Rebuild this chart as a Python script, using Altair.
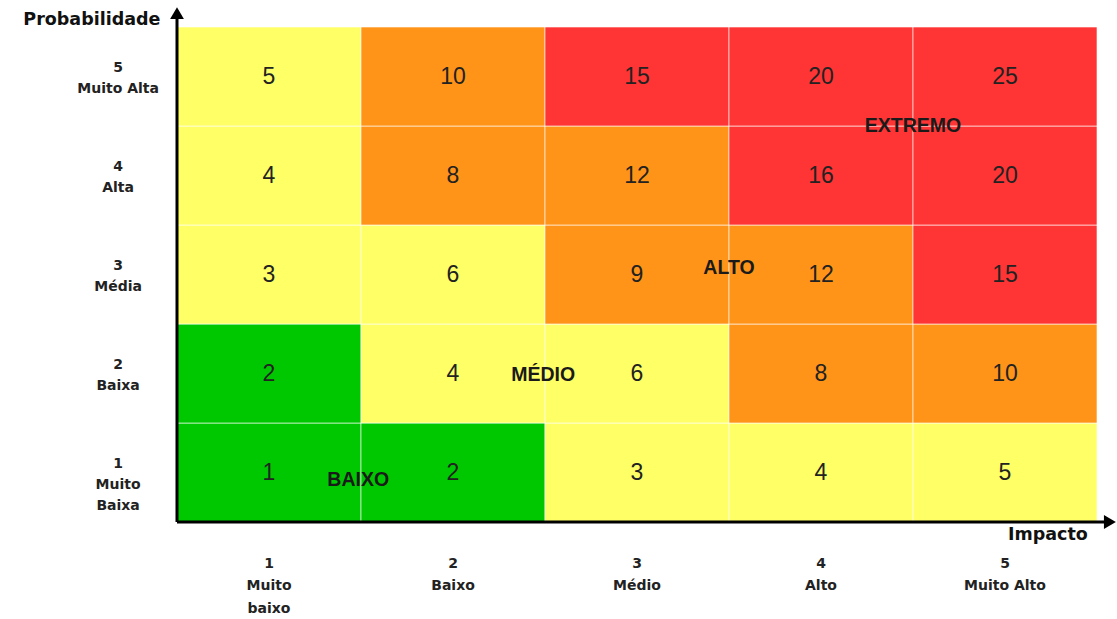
import altair as alt
import pandas as pd

# ---- data ----
impact_levels = [1, 2, 3, 4, 5]
prob_levels = [1, 2, 3, 4, 5]
impact_labels = ["1\nMuito\nbaixo", "2\nBaixo", "3\nMédio", "4\nAlto", "5\nMuito Alto"]
prob_labels = ["1\nMuito\nBaixa", "2\nBaixa", "3\nMédia", "4\nAlta", "5\nMuito Alta"]

# risk class per cell: rows = probability 1..5, cols = impact 1..5
risk_class = [
    ["G", "G", "Y", "Y", "Y"],
    ["G", "Y", "Y", "O", "O"],
    ["Y", "Y", "O", "O", "R"],
    ["Y", "O", "O", "R", "R"],
    ["Y", "O", "R", "R", "R"],
]
class_codes = ["G", "Y", "O", "R"]
class_colors = ["#00C800", "#FFFF66", "#FF9418", "#FF3535"]

zone_names = ["BAIXO", "MÉDIO", "ALTO", "EXTREMO"]
zone_x = [0.985, 1.99, 3.0, 4.0]
zone_y = [0.42, 1.48, 2.57, 4.0]

rows = []
for pi, p in enumerate(prob_levels):
    for ii, i in enumerate(impact_levels):
        rows.append({"x0": i - 1, "x1": i, "y0": p - 1, "y1": p,
                     "xc": i - 0.5, "yc": p - 0.5,
                     "val": str(p * i), "cls": risk_class[pi][ii]})
cells = pd.DataFrame(rows)

xlab = pd.DataFrame({"x": [i - 0.5 for i in impact_levels], "y": [-0.35] * 5, "t": impact_labels})
ylab = pd.DataFrame({"x": [-0.32] * 5, "y": [p - 0.5 + 0.16 for p in prob_levels], "t": prob_labels})
zones = pd.DataFrame({"x": zone_x, "y": zone_y, "t": zone_names})

xs = alt.Scale(domain=[0, 5], nice=False, zero=False)
ys = alt.Scale(domain=[0, 5], nice=False, zero=False)

base = alt.Chart(cells)

rects = base.mark_rect(stroke="white", strokeWidth=1, strokeOpacity=0.6).encode(
    x=alt.X("x0:Q", scale=xs, axis=None),
    x2="x1:Q",
    y=alt.Y("y0:Q", scale=ys, axis=None),
    y2="y1:Q",
    color=alt.Color("cls:N", scale=alt.Scale(domain=class_codes, range=class_colors), legend=None),
)

nums = base.mark_text(font="Liberation Sans", fontSize=23, color="#222222", baseline="middle").encode(
    x=alt.X("xc:Q", scale=xs), y=alt.Y("yc:Q", scale=ys), text="val:N"
)

zone_txt = alt.Chart(zones).mark_text(font="Liberation Sans", fontSize=19.5, fontWeight="bold",
                                      color="#1a1a1a", baseline="middle").encode(
    x=alt.X("x:Q", scale=xs), y=alt.Y("y:Q", scale=ys), text="t:N"
)

xlab_txt = alt.Chart(xlab).mark_text(font="DejaVu Sans", fontSize=14, fontWeight="bold",
                                     color="#222222", baseline="top", align="center",
                                     lineBreak="\n", lineHeight=22.5).encode(
    x=alt.X("x:Q", scale=xs), y=alt.Y("y:Q", scale=ys), text="t:N"
)

ylab_txt = alt.Chart(ylab).mark_text(font="DejaVu Sans", fontSize=14, fontWeight="bold",
                                     color="#222222", baseline="top", align="center",
                                     lineBreak="\n", lineHeight=21).encode(
    x=alt.X("x:Q", scale=xs), y=alt.Y("y:Q", scale=ys), text="t:N"
)

titles = pd.DataFrame({"x": [-0.09, 4.95], "y": [5.07, -0.13], "t": ["Probabilidade", "Impacto"]})
title_txt = alt.Chart(titles).mark_text(font="DejaVu Sans", fontSize=17.5, fontWeight="bold",
                                        color="#111111", baseline="middle", align="right").encode(
    x=alt.X("x:Q", scale=xs), y=alt.Y("y:Q", scale=ys), text="t:N"
)

axes_df = pd.DataFrame({"x": [0, 0], "y": [0, 0], "x2": [0, 5.06], "y2": [5.12, 0]})
axis_lines = alt.Chart(axes_df).mark_rule(color="black", strokeWidth=3).encode(
    x=alt.X("x:Q", scale=xs), y=alt.Y("y:Q", scale=ys), x2="x2:Q", y2="y2:Q"
)

arrows_df = pd.DataFrame({"x": [0, 5.07], "y": [5.14, 0], "shape": ["triangle-up", "triangle-right"]})
arrows = alt.Chart(arrows_df).mark_point(filled=True, color="black", size=190, opacity=1).encode(
    x=alt.X("x:Q", scale=xs), y=alt.Y("y:Q", scale=ys),
    shape=alt.Shape("shape:N", scale=None, legend=None)
)

chart = alt.layer(rects, nums, zone_txt, xlab_txt, ylab_txt, title_txt, axis_lines, arrows).properties(
    width=920, height=495,
    autosize=alt.AutoSizeParams(type="none"),
    padding={"left": 177, "top": 27, "right": 20, "bottom": 97},
    background="white",
).configure_view(stroke=None)

chart.save("out.html", embed_options={"renderer": "svg", "actions": False})
